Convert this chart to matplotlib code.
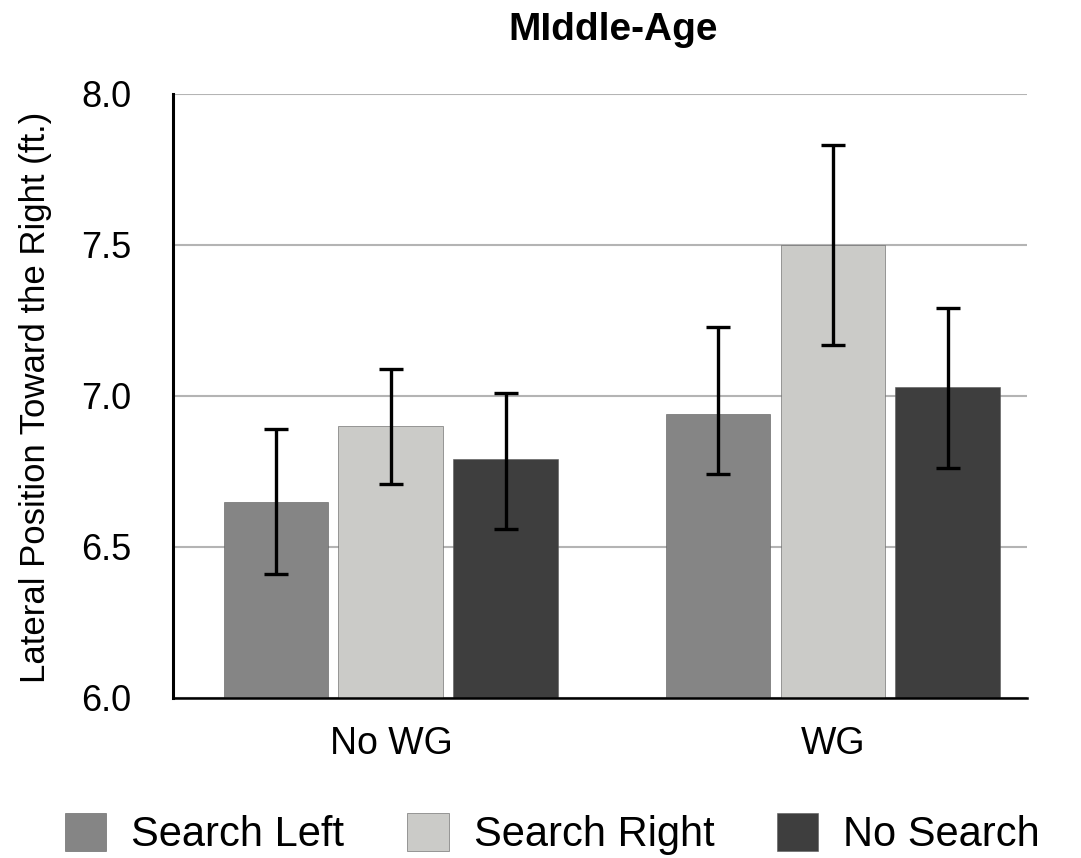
import matplotlib
matplotlib.use("Agg")
import matplotlib.pyplot as plt
import numpy as np

plt.rcParams['font.family'] = ['Liberation Sans', 'DejaVu Sans']

# data
groups = ['No WG', 'WG']
series = ['Search Left', 'Search Right', 'No Search']
colors = ['#858585', '#cbcbc8', '#3e3e3e']
means = [
    [6.65, 6.94],   # Search Left
    [6.90, 7.50],   # Search Right
    [6.79, 7.03],   # No Search
]
err_low = [
    [6.41, 6.74],
    [6.71, 7.17],
    [6.56, 6.76],
]
err_high = [
    [6.89, 7.23],
    [7.09, 7.83],
    [7.01, 7.29],
]
yticks = [6.0, 6.5, 7.0, 7.5, 8.0]

fig = plt.figure(figsize=(10.81, 8.58), dpi=100)
ax = fig.add_axes([0.160, 0.1865, 0.790, 0.704])

x = np.arange(len(groups))
width = 0.237
offsets = [-0.26, 0.0, 0.26]

handles = []
for i in range(len(series)):
    m = np.array(means[i])
    lo = m - np.array(err_low[i])
    hi = np.array(err_high[i]) - m
    b = ax.bar(x + offsets[i], m - 6.0, width, bottom=6.0, color=colors[i],
               edgecolor='#5a5a5a', linewidth=0.4, zorder=2, label=series[i])
    ax.errorbar(x + offsets[i], m, yerr=[lo, hi], fmt='none', ecolor='black',
                elinewidth=2.4, capsize=8.5, capthick=2.4, zorder=3)
    handles.append(b)

ax.set_ylim(6.0, 8.0)
ax.set_xlim(-0.493, 1.439)
ax.set_yticks(yticks)
ax.set_yticklabels(['%.1f' % v for v in yticks], fontsize=26)
ax.set_xticks(x)
ax.set_xticklabels(groups, fontsize=27)
ax.tick_params(axis='both', length=0)
ax.tick_params(axis='y', pad=30)
ax.tick_params(axis='x', pad=20)

ax.yaxis.grid(True, color='#b4b4b4', linewidth=1.5, zorder=0)
ax.set_axisbelow(True)
for s in ['top', 'right']:
    ax.spines[s].set_visible(False)
ax.spines['left'].set_linewidth(2.2)
ax.spines['bottom'].set_linewidth(1.8)

fig.text(0.567, 0.965, 'MIddle-Age', ha='center', va='center',
         fontsize=28, fontweight='bold')
fig.text(0.033, 0.537, 'Lateral Position Toward the Right (ft.)', rotation=90,
         ha='center', va='center', fontsize=25)

fig.legend(handles=handles, labels=series, loc='center', ncol=3,
           bbox_to_anchor=(0.511, 0.028), frameon=False, fontsize=30,
           handlelength=1.0, handleheight=1.05, handletextpad=0.6,
           columnspacing=1.5)

fig.savefig('out.png', dpi=100)
